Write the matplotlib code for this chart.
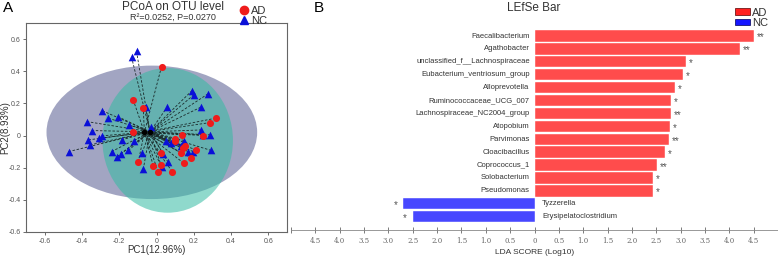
import matplotlib
matplotlib.use("Agg")
import matplotlib.pyplot as plt
from matplotlib.patches import Ellipse, Patch
from matplotlib.lines import Line2D
import numpy as np

plt.rcParams['font.family'] = ['Liberation Sans', 'DejaVu Sans']

# --- PCoA data ---
nc_x = [-0.107, -0.134, 0.191, 0.200, 0.276, 0.237, 0.059, -0.059, -0.290, -0.374,
        -0.258, -0.208, -0.146, -0.027, -0.348, 0.241, 0.250, 0.289, -0.294, -0.365,
        -0.307, -0.356, -0.187, -0.119, 0.050, 0.098, 0.148, 0.080, -0.241, -0.151,
        -0.077, -0.193, -0.210, 0.130, 0.169, 0.196, 0.294, 0.036, 0.062, 0.027,
        -0.071, -0.472]
nc_y = [0.523, 0.488, 0.280, 0.253, 0.259, 0.176, 0.180, 0.176, 0.154, 0.087,
        0.108, 0.118, 0.066, 0.050, 0.031, 0.035, 0.004, 0.004, -0.002, -0.027,
        -0.017, -0.058, -0.027, -0.031, -0.037, -0.033, -0.031, -0.048, -0.100, -0.093,
        -0.106, -0.114, -0.131, -0.068, -0.100, -0.100, -0.093, -0.114, -0.166, -0.193,
        -0.210, -0.100]
ad_x = [0.027, -0.125, -0.071, 0.317, 0.289, -0.128, 0.139, 0.250, 0.098, 0.143,
        0.152, 0.134, 0.214, 0.187, 0.023, -0.098, -0.018, 0.023, 0.009, 0.084,
        0.146, 0.098]
ad_y = [0.429, 0.222, 0.174, 0.108, 0.081, 0.021, 0.004, 0.000, -0.037, -0.079,
        -0.068, -0.110, -0.089, -0.141, -0.110, -0.166, -0.187, -0.183, -0.226, -0.224,
        -0.172, -0.023]
nc_center = (-0.035, 0.023)
ad_center = (-0.065, 0.020)
# ellipses: (cx, cy, width, height)
nc_ellipse = (-0.025, 0.02, 1.13, 0.83)
ad_ellipse = (0.06, -0.03, 0.70, 0.90)

# --- LEfSe data ---
taxa = ["Faecalibacterium", "Agathobacter", "unclassified_f__Lachnospiraceae",
        "Eubacterium_ventriosum_group", "Alloprevotella", "Ruminococcaceae_UCG_007",
        "Lachnospiraceae_NC2004_group", "Atopobium", "Parvimonas", "Cloacibacillus",
        "Coprococcus_1", "Solobacterium", "Pseudomonas", "Tyzzerella",
        "Erysipelatoclostridium"]
lda = [4.50, 4.22, 3.11, 3.04, 2.89, 2.81, 2.81, 2.79, 2.77, 2.67,
       2.52, 2.43, 2.43, -2.69, -2.50]
signif = ["**", "**", "*", "*", "*", "*", "**", "*", "**", "*", "**", "*", "*", "*", "*"]

RED = "#ff4c4c"
BLUE = "#4747ff"

fig = plt.figure(figsize=(7.78, 2.57), dpi=100)

# ---------- Panel A ----------
ax = fig.add_axes([26/778, 25/257, 261/778, 209/257])
ax.add_patch(Ellipse(nc_ellipse[:2], nc_ellipse[2], nc_ellipse[3],
                     facecolor="#a2a5c2", edgecolor="none", zorder=1))
ax.add_patch(Ellipse(ad_ellipse[:2], ad_ellipse[2], ad_ellipse[3],
                     facecolor="#33bba2", alpha=0.55, edgecolor="none", zorder=2))
for x, y in zip(nc_x, nc_y):
    ax.plot([x, nc_center[0]], [y, nc_center[1]], ls=(0, (3, 2)), color="#1a2a2a", lw=0.6, zorder=3)
for x, y in zip(ad_x, ad_y):
    ax.plot([x, ad_center[0]], [y, ad_center[1]], ls=(0, (3, 2)), color="#1a2a2a", lw=0.6, zorder=3)
ax.scatter(nc_x, nc_y, marker="^", s=30, color="#0a10d8", zorder=4, linewidths=0)
ax.scatter(ad_x, ad_y, marker="o", s=26, color="#ee1c1c", zorder=4, linewidths=0)
ax.scatter([nc_center[0], ad_center[0]], [nc_center[1], ad_center[1]], s=8, color="black", zorder=5)
ax.set_xlim(-0.7, 0.7)
ax.set_ylim(-0.6, 0.7)
ax.set_xticks([-0.6, -0.4, -0.2, 0, 0.2, 0.4, 0.6])
ax.set_xticklabels(["-0.6", "-0.4", "-0.2", "0", "0.2", "0.4", "0.6"])
ax.set_yticks([-0.6, -0.4, -0.2, 0, 0.2, 0.4, 0.6])
ax.set_yticklabels(["-0.6", "-0.4", "-0.2", "0", "0.2", "0.4", "0.6"])
ax.tick_params(labelsize=5, colors="#555555", length=2.5, width=0.6, pad=1.5)
for s in ax.spines.values():
    s.set_color("#666666")
    s.set_linewidth(0.8)
ax.set_xlabel("PC1(12.96%)", fontsize=7, color="#333333", va="center")
ax.xaxis.set_label_coords(0.5, -(250 - 232) / 209, transform=ax.transAxes)
ax.set_ylabel("PC2(8.93%)", fontsize=7, color="#333333", va="center")
ax.yaxis.set_label_coords(-(26 - 5) / 261, 0.5, transform=ax.transAxes)
fig.text(173/778, 1 - 7/257, "PCoA on OTU level", ha="center", va="center", fontsize=8.5, color="#333333")
fig.text(173/778, 1 - 17/257, "R\u00b2=0.0252, P=0.0270", ha="center", va="center", fontsize=6.5, color="#333333")
fig.text(3/778, 1 - 8/257, "A", ha="left", va="center", fontsize=11)
hA = [Line2D([], [], marker="o", ls="none", color="#ee1c1c", markersize=6),
      Line2D([], [], marker="^", ls="none", color="#0a10d8", markersize=6)]
fig.legend(hA, ["AD", "NC"], loc="upper left", bbox_to_anchor=(233/778, 1 - 0/257),
           frameon=False, fontsize=8, handletextpad=0.1, labelspacing=0.05,
           borderpad=0, handlelength=1.0, labelcolor="#333333")

# ---------- Panel B ----------
bx = fig.add_axes([291/778, 27/257, 487/778, 202/257])
ypos = np.arange(len(taxa))
colors = [RED if v > 0 else BLUE for v in lda]
bx.barh(ypos, lda, height=0.88, color=colors, edgecolor="white", linewidth=0.3)
for i, (t, v, s) in enumerate(zip(taxa, lda, signif)):
    if v > 0:
        bx.text(-0.1, i, t, ha="right", va="center", fontsize=5.5, color="#333333")
        bx.text(v + 0.06, i + 0.12, s, ha="left", va="center", fontsize=7, color="#555555")
    else:
        bx.text(0.16, i, t, ha="left", va="center", fontsize=5.5, color="#333333")
        bx.text(v - 0.12, i + 0.12, s, ha="right", va="center", fontsize=7, color="#555555")
bx.set_xlim(-5, 5)
bx.set_ylim(15.03, -0.62)
ticks = np.arange(-5, 5.01, 0.5)
bx.set_xticks(ticks)
bx.set_xticklabels(["" if abs(abs(t) - 5) < 1e-9 else f"{abs(t):.1f}".replace("0.0", "0") for t in ticks],
                   fontfamily="DejaVu Serif")
bx.tick_params(axis="x", labelsize=5, colors="#666666", direction="inout", length=4, width=0.6, pad=3)
bx.set_yticks([])
for k in ["left", "right", "top"]:
    bx.spines[k].set_visible(False)
bx.spines["bottom"].set_color("#888888")
bx.spines["bottom"].set_linewidth(0.6)
bx.set_xlabel("LDA SCORE (Log10)", fontsize=6, color="#333333", va="center")
bx.xaxis.set_label_coords(0.5, -(252 - 230) / 202, transform=bx.transAxes)
fig.text(534/778, 1 - 8/257, "LEfSe Bar", ha="center", va="center", fontsize=8.5, color="#333333")
fig.text(314/778, 1 - 8/257, "B", ha="left", va="center", fontsize=11)
hB = [Patch(facecolor="#ff2020", edgecolor="#550000", linewidth=0.5),
      Patch(facecolor="#1515ff", edgecolor="#000055", linewidth=0.5)]
fig.legend(hB, ["AD", "NC"], loc="upper left", bbox_to_anchor=(729/778, 1 - 2/257),
           frameon=False, fontsize=8, handletextpad=0.2, labelspacing=0.05,
           borderpad=0, handlelength=1.4, handleheight=0.5, labelcolor="#333333")

fig.savefig("out.png", dpi=100)
